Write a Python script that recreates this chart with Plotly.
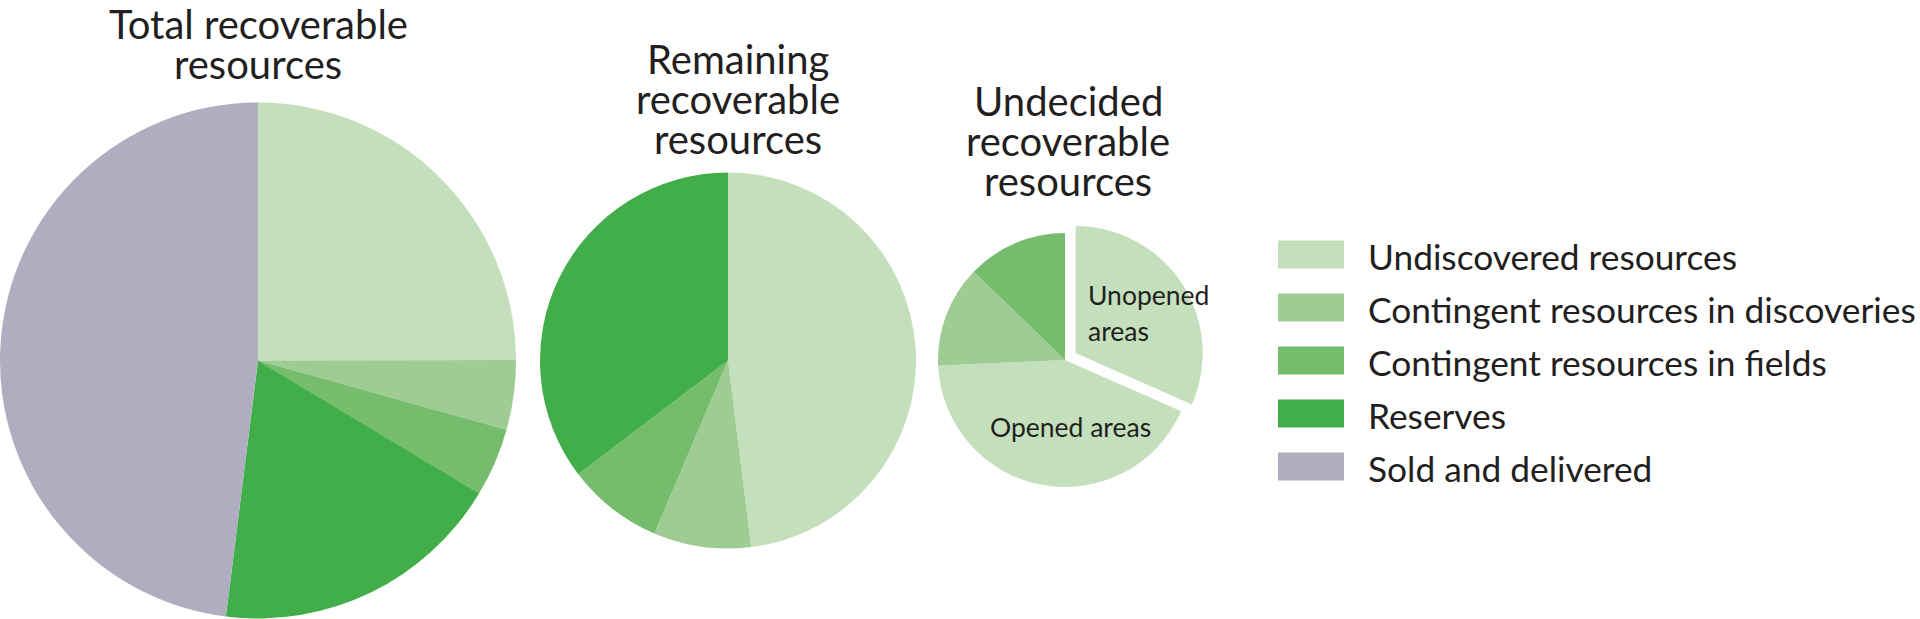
import plotly.graph_objects as go

W, H = 1920, 619

# data (bn Sm3 o.e. approx)
categories = ["Undiscovered resources", "Contingent resources in discoveries",
              "Contingent resources in fields", "Reserves", "Sold and delivered"]
total_values = [3.9, 0.68, 0.67, 2.87, 7.5]
remaining_values = [3.9, 0.68, 0.67, 2.87]
undecided_labels = ["Unopened areas", "Opened areas",
                    "Contingent resources in discoveries", "Contingent resources in fields"]
undecided_values = [1.66, 2.24, 0.68, 0.67]
undecided_pull = [0.1, 0, 0, 0]

colors = ["#c4dfbb", "#9ecc93", "#75bc6c", "#41ae4a", "#afaec0"]
undecided_colors = [colors[0], colors[0], colors[1], colors[2]]

titles = [["Total recoverable", "resources"],
          ["Remaining", "recoverable", "resources"],
          ["Undecided", "recoverable", "resources"]]

TEXT = "#231f20"
FONT = "Lato, 'Open Sans', sans-serif"


def dom(cx, cy, half):
    # pixel centre (from top) and half size -> paper domain
    return dict(x=[max(0, (cx - half) / W), min(1, (cx + half) / W)],
                y=[max(0, (H - cy - half) / H), min(1, (H - cy + half) / H)])


common = dict(sort=False, direction="clockwise", rotation=0, textinfo="none",
              hoverinfo="label+value+percent", showlegend=False)

fig = go.Figure()
fig.add_trace(go.Pie(labels=categories, values=total_values,
                     marker=dict(colors=colors, line=dict(width=0)),
                     domain=dom(258, 360.5, 258), **common))
fig.add_trace(go.Pie(labels=categories[:4], values=remaining_values,
                     marker=dict(colors=colors[:4], line=dict(width=0)),
                     domain=dom(728, 360.5, 188), **common))
fig.add_trace(go.Pie(labels=undecided_labels, values=undecided_values,
                     pull=undecided_pull,
                     marker=dict(colors=undecided_colors, line=dict(width=0)),
                     domain=dom(1065, 360, 127 * 1.1), **common))

annotations = []
shapes = []

# pie titles, one annotation per line
title_x = [258, 738, 1068]
title_y0 = [24, 59, 101]
for tx, ty, lines in zip(title_x, title_y0, titles):
    for k, line in enumerate(lines):
        annotations.append(dict(x=tx / W, y=1 - (ty + k * 40) / H, xref="paper", yref="paper",
                                text=line, showarrow=False, xanchor="center", yanchor="middle",
                                font=dict(family=FONT, size=40, color=TEXT)))

# labels inside the undecided pie
inner = [("Unopened", 1086, 295), ("areas", 1086, 331), ("Opened areas", 988, 427)]
for txt, lx, ly in inner:
    annotations.append(dict(x=lx / W, y=1 - ly / H, xref="paper", yref="paper",
                            text=txt, showarrow=False, xanchor="left", yanchor="middle",
                            font=dict(family=FONT, size=26.5, color=TEXT)))

# legend
for i, (cat, col) in enumerate(zip(categories, colors)):
    yc = 254.5 + i * 53
    shapes.append(dict(type="rect", xref="paper", yref="paper",
                       x0=1278 / W, x1=1344 / W, y0=1 - (yc - 14) / H, y1=1 - (yc + 14) / H,
                       fillcolor=col, line=dict(width=0)))
    annotations.append(dict(x=1366 / W, y=1 - (yc + 2) / H, xref="paper", yref="paper",
                            text=cat, showarrow=False, xanchor="left", yanchor="middle",
                            font=dict(family=FONT, size=35.3, color=TEXT)))

fig.update_layout(width=W, height=H, margin=dict(l=0, r=0, t=0, b=0),
                  paper_bgcolor="white", plot_bgcolor="white",
                  annotations=annotations, shapes=shapes)

fig.write_html("out.html", config={"displayModeBar": False},
               post_script="document.body.style.margin='0';")
